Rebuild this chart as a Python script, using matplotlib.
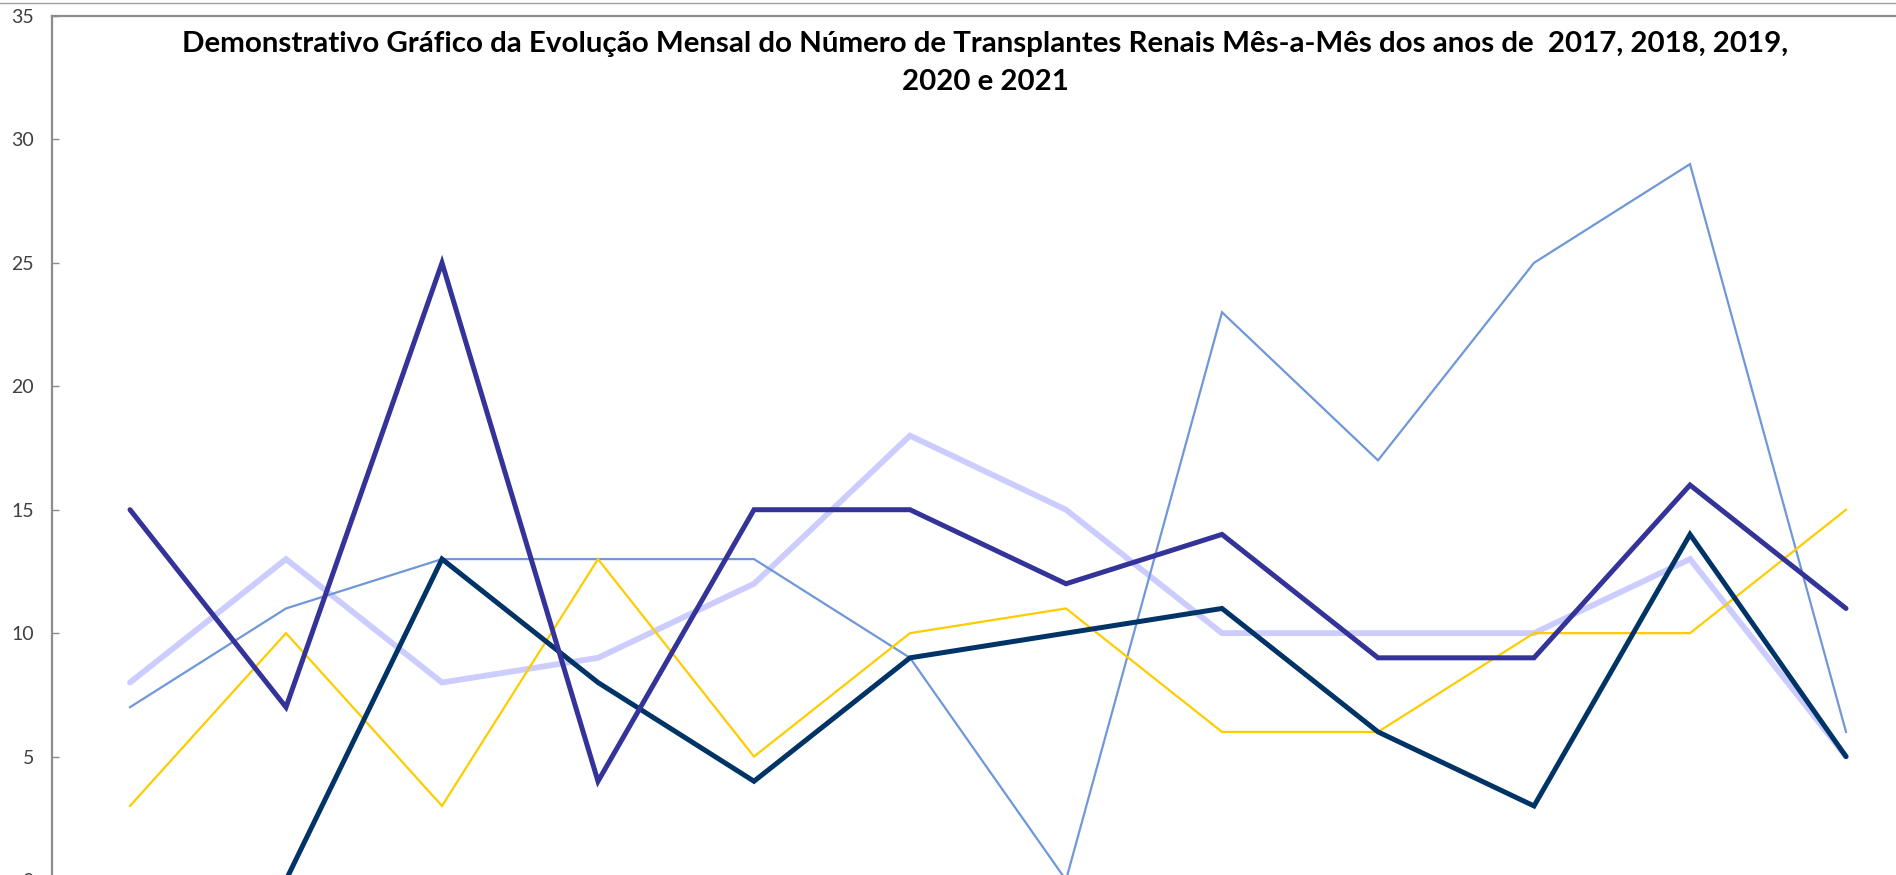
import numpy as np
import matplotlib.pyplot as plt
from matplotlib.lines import Line2D

meses = ["Jan", "Fev", "Mar", "Abr", "Mai", "Jun", "Jul", "Ago", "Set", "Out", "Nov", "Dez"]

# valores (transplantes renais por mes)
t2017 = [0, 0, 13, 8, 4, 9, 10, 11, 6, 3, 14, 5]
t2018 = [15, 7, 25, 4, 15, 15, 12, 14, 9, 9, 16, 11]
t2019 = [8, 13, 8, 9, 12, 18, 15, 10, 10, 10, 13, 5]
t2020 = [7, 11, 13, 13, 13, 9, 0, 23, 17, 25, 29, 6]
t2021 = [3, 10, 3, 13, 5, 10, 11, 6, 6, 10, 10, 15]

W, H = 1896, 875
fig = plt.figure(figsize=(W / 100, H / 100), dpi=100)

left = 52 / W
y_top = 16      # pixel do valor 35
y_zero = 880    # pixel do valor 0 (um pouco abaixo da imagem)
ax = fig.add_axes([left, (H - y_zero) / H, 1 - left, (y_zero - y_top) / H])

x = np.arange(len(meses))
ax.plot(x, t2019, color="#ccccff", lw=4.2, solid_capstyle="round", solid_joinstyle="miter", zorder=2)
ax.plot(x, t2020, color="#6f97d9", lw=1.6, solid_joinstyle="miter", zorder=3)
ax.plot(x, t2021, color="#ffcc00", lw=1.6, solid_joinstyle="miter", zorder=3)
ax.plot(x, t2017, color="#003366", lw=3.6, solid_capstyle="round", solid_joinstyle="miter", zorder=4)
ax.plot(x, t2018, color="#333399", lw=3.6, solid_capstyle="round", solid_joinstyle="miter", zorder=5)

step = 156
ax.set_xlim(-0.5, -0.5 + (W - 52) / step)
ax.set_ylim(0, 35)
ax.set_yticks(range(0, 36, 5))
ax.set_xticks([])

for s in ["left", "top"]:
    ax.spines[s].set_color("#8c8c8c")
    ax.spines[s].set_linewidth(1.6)
for s in ["right", "bottom"]:
    ax.spines[s].set_visible(False)

ax.tick_params(axis="y", direction="in", length=5, width=1, color="#8c8c8c",
               pad=13, labelsize=14, labelcolor="#404040")
for lbl in ax.get_yticklabels():
    lbl.set_fontfamily(["Lato", "DejaVu Sans"])

# linha fina no topo da figura
fig.add_artist(Line2D([0, 1], [1 - 3 / H, 1 - 3 / H], transform=fig.transFigure,
                      color="#a0a0a0", lw=1.0))

titulo = ("Demonstrativo Gráfico da Evolução Mensal do Número de Transplantes Renais "
          "Mês-a-Mês dos anos de  2017, 2018, 2019,")
t1 = fig.text(985 / W, 1 - 44 / H, titulo, ha="center", va="center",
              fontsize=20, fontweight="bold", family=["Lato", "DejaVu Sans"])
fig.canvas.draw()
largura = t1.get_window_extent().width
fs = 20 * 1608 / largura
t1.set_fontsize(fs)
fig.text(985 / W, 1 - 82 / H, "2020 e 2021", ha="center", va="center",
         fontsize=fs, fontweight="bold", family=["Lato", "DejaVu Sans"])

fig.savefig("out.png", dpi=100)
